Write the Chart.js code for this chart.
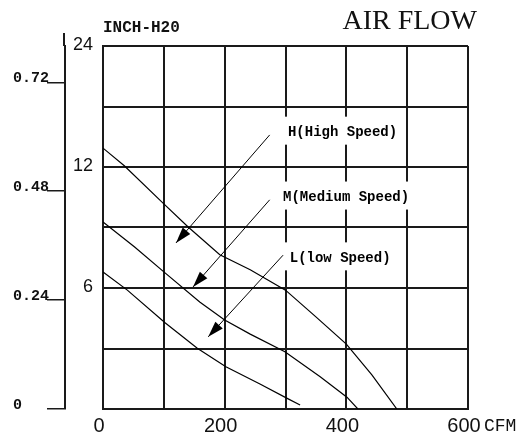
<!DOCTYPE html>
<html>
<head>
<meta charset="utf-8">
<script src="https://cdn.jsdelivr.net/npm/chart.js@4.4.0/dist/chart.umd.min.js"></script>
<style>
  html, body { margin: 0; padding: 0; background: #fff; }
</style>
</head>
<body>
<canvas id="fan-chart" width="525" height="446"></canvas>
<script>
// air flow (CFM) against static pressure (inch H2O)
var highCfm = [0, 35, 100, 140, 192, 242, 300, 350, 400, 442, 483];
var highP   = [0.575, 0.536, 0.452, 0.401, 0.340, 0.307, 0.262, 0.203, 0.143, 0.075, 0];
var medCfm  = [0, 52, 102, 159, 200, 242, 299, 357, 401, 419];
var medP    = [0.412, 0.357, 0.300, 0.236, 0.196, 0.165, 0.126, 0.071, 0.026, 0];
var lowCfm  = [0, 40, 102, 155, 202, 258, 302, 324];
var lowP    = [0.302, 0.262, 0.190, 0.134, 0.093, 0.055, 0.024, 0.009];

var xTickLabels = { 0: '0', 200: '200', 400: '400', 600: '600' };
var innerTickLabels = ['', '', '6', '', '12', '', '24'];
var outerTicks = [0, 0.24, 0.48, 0.72];

// label text, where it sits, and the arrow drawn from it to its curve (data units)
var curveNotes = [
  { text: 'H(High Speed)',   at: [304, 0.609], from: [274, 0.604], tip: [120, 0.366] },
  { text: 'M(Medium Speed)', at: [296, 0.466], from: [274, 0.461], tip: [148, 0.269] },
  { text: 'L(low Speed)',    at: [307, 0.332], from: [296, 0.339], tip: [173, 0.159] }
];

var ink = '#1a1a1a';

function pts(xs, ys) {
  return xs.map(function (x, i) { return { x: x, y: ys[i] }; });
}

function arrowHead(ctx, x0, y0, x1, y1) {
  var a = Math.atan2(y1 - y0, x1 - x0), len = 16, half = 5;
  ctx.beginPath();
  ctx.moveTo(x1, y1);
  ctx.lineTo(x1 - len * Math.cos(a) + half * Math.sin(a), y1 - len * Math.sin(a) - half * Math.cos(a));
  ctx.lineTo(x1 - len * Math.cos(a) - half * Math.sin(a), y1 - len * Math.sin(a) + half * Math.cos(a));
  ctx.closePath();
  ctx.fill();
}

// vertical axes: no extra room for half-labels at the ends, the layout padding handles it
function fixWidth(w) {
  return function (s) {
    s.width = w;
    s.paddingTop = 0;
    s.paddingBottom = 0;
  };
}

var noteFont = 'bold 14px "Liberation Mono"';

var notes = {
  id: 'notes',
  beforeDatasetsDraw: function (chart) {
    var ctx = chart.ctx, x = chart.scales.x, y = chart.scales.y;
    ctx.save();
    ctx.font = noteFont;
    ctx.fillStyle = '#fff';
    curveNotes.forEach(function (n) {
      var px = x.getPixelForValue(n.at[0]), py = y.getPixelForValue(n.at[1]);
      var w = ctx.measureText(n.text).width;
      ctx.fillRect(px - 6, py - 16, w + 9, 28);
    });
    ctx.restore();
  },
  afterDatasetsDraw: function (chart) {
    var ctx = chart.ctx, x = chart.scales.x, y = chart.scales.y;
    ctx.save();
    ctx.strokeStyle = '#000';
    ctx.fillStyle = '#000';
    ctx.lineWidth = 1;
    curveNotes.forEach(function (n) {
      var x0 = x.getPixelForValue(n.from[0]), y0 = y.getPixelForValue(n.from[1]);
      var x1 = x.getPixelForValue(n.tip[0]), y1 = y.getPixelForValue(n.tip[1]);
      ctx.beginPath();
      ctx.moveTo(x0, y0);
      ctx.lineTo(x1, y1);
      ctx.stroke();
      arrowHead(ctx, x0, y0, x1, y1);
      ctx.font = noteFont;
      ctx.textAlign = 'left';
      ctx.textBaseline = 'middle';
      ctx.fillText(n.text, x.getPixelForValue(n.at[0]), y.getPixelForValue(n.at[1]));
    });
    ctx.restore();
  },
  afterDraw: function (chart) {
    var ctx = chart.ctx, area = chart.chartArea, x = chart.scales.x, y2 = chart.scales.y2;
    ctx.save();
    // outer pressure axis runs a little above the grid
    ctx.strokeStyle = ink;
    ctx.lineWidth = 2;
    ctx.beginPath();
    ctx.moveTo(y2.right - 1, area.top);
    ctx.lineTo(y2.right - 1, area.top - 13);
    ctx.stroke();

    ctx.fillStyle = '#111';
    ctx.textBaseline = 'alphabetic';
    ctx.font = 'bold 16px "Liberation Mono"';
    ctx.textAlign = 'left';
    ctx.fillText('INCH-H20', area.left, 32);
    ctx.font = '28px "Liberation Serif"';
    ctx.textAlign = 'right';
    ctx.fillText('AIR FLOW', area.right + 9, 29);
    ctx.font = '18px "Liberation Mono"';
    ctx.textAlign = 'left';
    ctx.textBaseline = 'middle';
    ctx.fillText('CFM', x.getPixelForValue(600) + 16, area.bottom + 17);
    ctx.restore();
  }
};

new Chart(document.getElementById('fan-chart'), {
  type: 'scatter',
  data: {
    datasets: [{
      label: 'H(High Speed)',
      data: pts(highCfm, highP),
      showLine: true, borderColor: '#000', borderWidth: 1.2, pointRadius: 0, fill: false
    }, {
      label: 'M(Medium Speed)',
      data: pts(medCfm, medP),
      showLine: true, borderColor: '#000', borderWidth: 1.2, pointRadius: 0, fill: false
    }, {
      label: 'L(low Speed)',
      data: pts(lowCfm, lowP),
      showLine: true, borderColor: '#000', borderWidth: 1.2, pointRadius: 0, fill: false
    }]
  },
  options: {
    responsive: false,
    animation: false,
    layout: { padding: { top: 46, right: 57, bottom: 3, left: 13 } },
    plugins: {
      legend: { display: false },
      tooltip: { enabled: false }
    },
    scales: {
      x: {
        type: 'linear', min: 0, max: 600,
        ticks: {
          stepSize: 100, autoSkip: false, maxRotation: 0, padding: 5, labelOffset: -4,
          color: '#111', font: { family: 'Liberation Sans', size: 20 },
          callback: function (v) { return xTickLabels[v] !== undefined ? xTickLabels[v] : ''; }
        },
        grid: { color: ink, lineWidth: 2, drawTicks: false },
        border: { color: ink, width: 2 }
      },
      y: {
        position: 'left', min: 0, max: 0.8, weight: 0,
        afterBuildTicks: function (s) {
          s.ticks = innerTickLabels.map(function (t, i) { return { value: i * 0.8 / 6 }; });
        },
        afterFit: fixWidth(38),
        ticks: {
          padding: 10, labelOffset: -1, color: '#111',
          font: { family: 'Liberation Sans', size: 18 },
          callback: function (v, i) { return innerTickLabels[i]; }
        },
        grid: { color: ink, lineWidth: 2, drawTicks: false },
        border: { color: ink, width: 2 }
      },
      y2: {
        position: 'left', min: 0, max: 0.8, weight: 1,
        afterBuildTicks: function (s) {
          s.ticks = outerTicks.map(function (v) { return { value: v }; });
        },
        afterFit: fixWidth(52),
        ticks: {
          crossAlign: 'far', padding: 0, labelOffset: -4, color: '#111',
          font: { family: 'Liberation Mono', size: 15, weight: 'bold' },
          callback: function (v) { return v === 0 ? '0' : v.toFixed(2); }
        },
        grid: { drawOnChartArea: false, drawTicks: true, tickLength: 18, color: ink, lineWidth: 1.5 },
        border: { color: ink, width: 2 }
      }
    }
  },
  plugins: [notes]
});
</script>
</body>
</html>
